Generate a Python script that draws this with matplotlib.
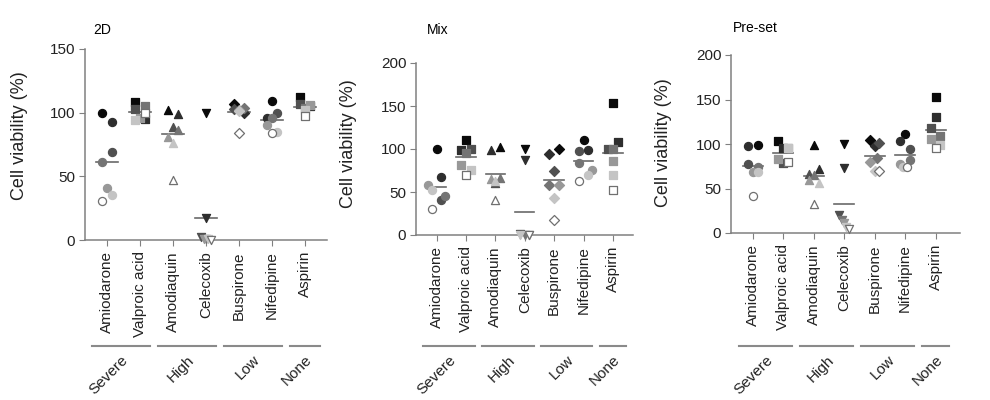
import matplotlib
matplotlib.use('Agg')
import matplotlib.pyplot as plt
import matplotlib.transforms as mtransforms

plt.rcParams['font.family'] = ['Liberation Sans', 'DejaVu Sans']

drugs = ['Amiodarone', 'Valproic acid', 'Amodiaquin', 'Celecoxib',
         'Buspirone', 'Nifedipine', 'Aspirin']
groups = ['Severe', 'High', 'Low', 'None']
group_members = [[0, 1], [2, 3], [4, 5], [6]]
markers = ['o', 's', '^', 'v', 'D', 'o', 's']

# cell viability (%) per replicate, ordered from the darkest marker to the open one
via_2d = [
    [100, 93, 69, 61, 41, 35, 31],
    [108, 95, 103, 105, 96, 94, 100],
    [102, 99, 89, 86, 81, 76, 47],
    [100, 17, 2, 1, 1, 0.5, 0],
    [107, 100, 103, 104, 102, 101, 84],
    [109, 96, 100, 96, 90, 85, 84],
    [112, 105, 107, 104, 106, 102, 97],
]
via_mix = [
    [100, 67, 41, 45, 58, 52, 30],
    [110, 99, 100, 95, 81, 76, 70],
    [102, 99, 60, 66, 65, 63, 41],
    [100, 87, 1, 0.5, 0, 0, 0],
    [100, 94, 74, 58, 58, 43, 18],
    [110, 99, 98, 84, 76, 70, 63],
    [154, 108, 100, 100, 86, 70, 52],
]
via_preset = [
    [99, 98, 78, 74, 69, 68, 42],
    [103, 95, 79, 95, 83, 95, 80],
    [99, 72, 66, 65, 60, 56, 33],
    [100, 73, 20, 15, 11, 7, 4],
    [104, 98, 101, 84, 80, 70, 70],
    [111, 103, 94, 82, 78, 74, 74],
    [153, 130, 118, 109, 106, 99, 96],
]

# horizontal scatter of replicates inside a column (layout only)
JIT = {'L': -0.3, 'l': -0.16, 'm': -0.07, 'C': 0.0, 'n': 0.07, 'r': 0.16, 'R': 0.3}
jit_2d = ['lrrlCrl', 'lrlrClr', 'lrCrlCC', 'CClCmnr', 'lrlrCCC', 'ClrClrC', 'lrlCrCC']
jit_mix = ['CrrRLll', 'ClrClrC', 'rlCrlCC', 'CClCrlr', 'rlClrCC', 'CrllRrl', 'CrlCCCC']
jit_preset = ['rllrCrC', 'lCCrlrr', 'CrlClrC', 'CClmCnr', 'lCrnlCr', 'Clrrlmn', 'CClrlrC']

shades = ['#0a0a0a', '#2e2e2e', '#505050', '#747474', '#989898', '#c4c4c4', 'white']

fig = plt.figure(figsize=(9.9, 4), dpi=100)
W, H = 990, 400


def box(l, t, r, b):
    return [l / W, 1 - b / H, (r - l) / W, (b - t) / H]


panels = [
    ('2D', via_2d, jit_2d, box(85, 49, 327, 240), (-0.67, 6.67), 150,
     [0, 50, 100, 150], (93, 30), (-0.236, 0.545)),
    ('Mix', via_mix, jit_mix, box(416, 63, 633, 235), (-0.70, 6.68), 200,
     [0, 50, 100, 150, 200], (427, 30), (-0.272, 0.53)),
    ('Pre-set', via_preset, jit_preset, box(731, 55, 960, 233), (-0.71, 6.8), 200,
     [0, 50, 100, 150, 200], (733, 28), (-0.258, 0.506)),
]

axis_col = '#808080'
for title, data, jit, rect, xl, ytop, yt, tpos, ylab in panels:
    ax = fig.add_axes(rect)
    for i, vals in enumerate(data):
        for k, v in enumerate(vals):
            x = i + JIT[jit[i][k]]
            s = 26 if markers[i] == 'D' else 34
            ec = '#707070' if shades[k] == 'white' else shades[k]
            ax.scatter(x, v, marker=markers[i], s=s, color=shades[k],
                       edgecolors=ec, linewidths=0.9, zorder=3, clip_on=False)
        m = sum(vals) / len(vals)
        ax.plot([i - 0.33, i + 0.33], [m, m], color='#6a6a6a', lw=1.2, zorder=2)

    ax.set_xlim(*xl)
    ax.set_ylim(0, ytop)
    ax.set_yticks(yt)
    ax.set_xticks(range(len(drugs)))
    ax.set_xticklabels(drugs, rotation=90, fontsize=11, color='#222222')
    ax.tick_params(axis='y', labelsize=11, labelcolor='#222222', length=4, pad=3,
                   color=axis_col)
    ax.tick_params(axis='x', length=4, pad=4, color=axis_col)
    for sp in ['top', 'right']:
        ax.spines[sp].set_visible(False)
    for sp in ['left', 'bottom']:
        ax.spines[sp].set_color(axis_col)
        ax.spines[sp].set_linewidth(1.1)
    ax.set_ylabel('Cell viability (%)', fontsize=13, color='#222222')
    ax.yaxis.set_label_coords(*ylab)

    fig.text(tpos[0] / W, 1 - tpos[1] / H, title, fontsize=10, ha='left', va='center')

    # severity groups under the drug names
    tr = mtransforms.blended_transform_factory(ax.transData, fig.transFigure)
    for g, members in zip(groups, group_members):
        x0 = members[0] - 0.45
        x1 = members[-1] + (0.45 if len(members) == 1 else 0.3)
        ax.plot([x0, x1], [1 - 346 / H] * 2, transform=tr, color='#8a8a8a',
                lw=1.5, clip_on=False)
        ax.text((x0 + x1) / 2, 1 - 353 / H, g, transform=tr, rotation=45,
                rotation_mode='anchor', ha='right', va='top', fontsize=11,
                color='#222222')

fig.savefig('out.png', dpi=100, facecolor='white')
